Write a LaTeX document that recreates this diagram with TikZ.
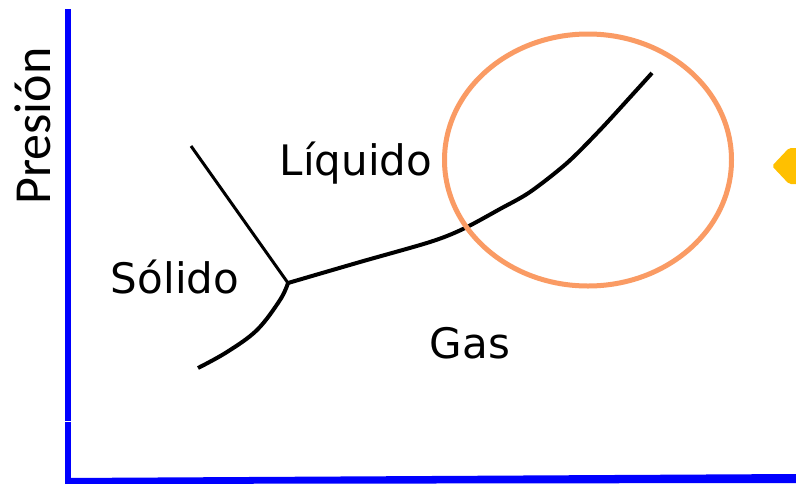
\documentclass[tikz,border=0pt]{standalone}
\usepackage{fontspec}
\setmainfont{DejaVu Sans}
\newfontfamily\axisfont{Carlito}
\definecolor{axisblue}{RGB}{0,0,255}
\definecolor{ringorange}{RGB}{250,155,100}
\definecolor{arrowyellow}{RGB}{255,192,0}
\begin{document}
\begin{tikzpicture}[x=1pt,y=-1pt,
  phaselabel/.style={anchor=base,inner sep=0pt,font=\fontsize{42}{48}\selectfont},
  boundary/.style={line width=4pt,black,line cap=butt,line join=round},
  axisline/.style={line width=6pt,axisblue}]
\useasboundingbox[fill=white] (0,0) rectangle (796,483);
% axes
\coordinate (ytop) at (68,9);
\coordinate (ygap1) at (68,420.5);
\coordinate (ygap2) at (68,421.5);
\coordinate (ybot) at (68,484);
\draw[axisline] (ytop) -- (ygap1);
\draw[axisline] (ygap2) -- (ybot);
\fill[axisblue] (65,478) -- (796,474) -- (796,483) -- (65,484) -- cycle;
% phase boundaries
\coordinate (tp) at (288,283);
\coordinate (slTop) at (191,146);
\coordinate (sgEnd) at (198,368);
\coordinate (lgEnd) at (652,73);
\draw[boundary,line width=3pt] (slTop) -- (tp);
\draw[boundary] plot[smooth,tension=0.6] coordinates {(288,283) (280,300) (257,330) (227,352) (198,368)};
\draw[boundary] plot[smooth,tension=0.5] coordinates {(288,283) (360,262) (430,242) (463,229) (500,209) (530,192) (567,163) (600,130) (633,94) (652,73)};
% critical region ring
\coordinate (ring) at (588,160);
\draw[ringorange,line width=5pt] (ring) ellipse [x radius=143.5pt, y radius=126pt];
% arrow at the right edge
\fill[arrowyellow,rounded corners=2pt] (772,166) -- (789,148) -- (800,148) -- (800,184) -- (789,184) -- cycle;
% labels
\node[phaselabel] (liq) at (356,175) {Líquido};
\node[phaselabel] (sol) at (175,293) {Sólido};
\node[phaselabel] (gas) at (470,358) {Gas};
\node[anchor=base,inner sep=0pt,rotate=90,font=\axisfont\fontsize{52}{58}\selectfont] (pres) at (50,126) {Presión};
\end{tikzpicture}
\end{document}
